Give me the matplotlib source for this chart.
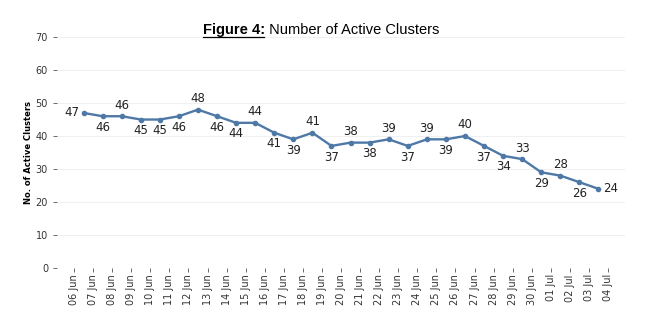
import matplotlib.pyplot as plt

dates = ["06 Jun", "07 Jun", "08 Jun", "09 Jun", "10 Jun", "11 Jun", "12 Jun", "13 Jun",
         "14 Jun", "15 Jun", "16 Jun", "17 Jun", "18 Jun", "19 Jun", "20 Jun", "21 Jun",
         "22 Jun", "23 Jun", "24 Jun", "25 Jun", "26 Jun", "27 Jun", "28 Jun", "29 Jun",
         "30 Jun", "01 Jul", "02 Jul", "03 Jul", "04 Jul"]
clusters = [47, 46, 46, 45, 45, 46, 48, 46, 44, 44, 41, 39, 41, 37, 38, 38, 39, 37,
            39, 39, 40, 37, 34, 33, 29, 28, 26, 24]
# where each value label sits relative to its point
label_pos = ["L", "B", "A", "B", "B", "B", "A", "B", "B", "A", "B", "B", "A", "B",
             "A", "B", "A", "B", "A", "B", "A", "B", "B", "A", "B", "A", "B", "R"]

fig, ax = plt.subplots(figsize=(6.56, 3.28), dpi=100)
fig.subplots_adjust(left=0.087, right=0.953, top=0.887, bottom=0.183)

xs = [i + 0.5 for i in range(len(clusters))]
ax.plot(xs, clusters, color="#4e79a7", lw=1.7, marker="o", ms=3)

offsets = {"A": ((0, 8), "center", "center"), "B": ((0, -8), "center", "center"),
           "L": ((-3, 0), "right", "center"), "R": ((3, 0), "left", "center")}
for x, v, p in zip(xs, clusters, label_pos):
    off, ha, va = offsets[p]
    ax.annotate(str(v), (x, v), xytext=off, textcoords="offset points",
                ha=ha, va=va, fontsize=8.5, color="#222222", family="DejaVu Sans")

ax.set_xlim(-0.89, 28.9)
ax.set_ylim(0, 70)
ax.set_yticks(range(0, 71, 10))
ax.set_xticks(range(len(dates)))
ax.set_xticklabels(dates, rotation=90, fontsize=7, color="#333333")
ax.tick_params(axis="y", labelsize=7, labelcolor="#333333", length=3, width=0.6, color="#555555")
ax.tick_params(axis="x", length=3, width=0.6, color="#555555", pad=1.5)
ax.grid(axis="y", color="#f0f0f0", lw=0.8)
ax.set_axisbelow(True)
for s in ax.spines.values():
    s.set_visible(False)

ax.set_ylabel("No. of Active Clusters", fontsize=6, fontweight="bold", labelpad=2)

fig.text(0.404, 0.895, "Figure 4:", ha="right", fontsize=10.5, fontweight="bold",
         family="Liberation Sans")
fig.text(0.404, 0.895, " Number of Active Clusters", ha="left", fontsize=10.5,
         family="Liberation Sans")
# underline for the bold part
fig.add_artist(plt.Line2D([0.31, 0.403], [0.887, 0.887], color="black", lw=0.9))

fig.savefig("out.png")
